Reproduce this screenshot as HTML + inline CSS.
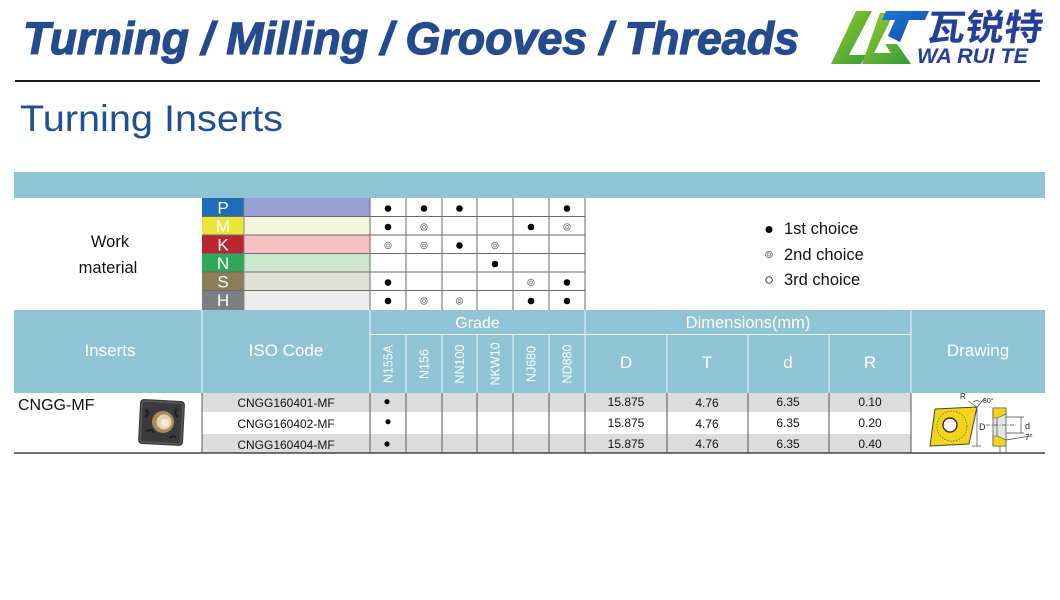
<!DOCTYPE html>
<html><head><meta charset="utf-8"><style>html,body{margin:0;padding:0;background:#fff;}svg{display:block}</style></head>
<body>
<svg width="1060" height="600" viewBox="0 0 1060 600" xmlns="http://www.w3.org/2000/svg" font-family="'Liberation Sans', 'Noto Sans CJK SC', sans-serif">
<defs>
  <g id="d1"><circle r="3.3" fill="#000"/></g>
  <g id="d2"><circle r="3.3" fill="none" stroke="#777" stroke-width="0.8"/><circle r="1.5" fill="none" stroke="#777" stroke-width="0.7"/></g>
  <linearGradient id="gg" x1="0" y1="0" x2="1" y2="1"><stop offset="0" stop-color="#9ccc2a"/><stop offset="1" stop-color="#2f9a3a"/></linearGradient>
  <linearGradient id="bg" x1="0" y1="0" x2="1" y2="1"><stop offset="0" stop-color="#1a7ad8"/><stop offset="1" stop-color="#1448a8"/></linearGradient>
</defs>
<rect width="1060" height="600" fill="#fff"/>

<!-- Title -->
<text x="23" y="54" font-size="45" font-weight="bold" font-style="italic" fill="#234b8e" stroke="#234b8e" stroke-width="1.2" textLength="776" lengthAdjust="spacingAndGlyphs">Turning / Milling / Grooves / Threads</text>

<!-- Logo -->
<polygon points="856,11 872,11 849,55 866,55 861,64 831,64" fill="url(#gg)"/>
<polygon points="880,13 894,13 874,53 891,53 885,44 897,44 911,64 862,64" fill="url(#gg)"/>
<polygon points="886,11 929,11 925,20 909,20 900,42 888,36 895,20 882,20" fill="url(#bg)"/>
<text x="926" y="40" font-size="36" font-weight="bold" fill="#253f96" textLength="116" lengthAdjust="spacingAndGlyphs" transform="skewX(-8) translate(5,0)">瓦锐特</text>
<text x="917" y="63" font-size="21" font-weight="bold" font-style="italic" fill="#253f96" textLength="111" lengthAdjust="spacingAndGlyphs">WA RUI TE</text>

<line x1="15" y1="81" x2="1040" y2="81" stroke="#1c1c1c" stroke-width="2"/>

<text x="20" y="131" font-size="37" fill="#22508f" textLength="263" lengthAdjust="spacingAndGlyphs">Turning Inserts</text>

<!-- top band -->
<rect x="14" y="172" width="1031" height="26" fill="#8fc4d4"/>

<!-- Work material -->
<text x="110" y="247" font-size="16.5" fill="#111" text-anchor="middle">Work</text>
<text x="108" y="273" font-size="16.5" fill="#111" text-anchor="middle">material</text>

<rect x="202" y="198" width="42" height="18.5" fill="#1f6db6"/><rect x="244" y="198" width="126" height="18.5" fill="#97a0d2"/>
<rect x="202" y="216.5" width="42" height="18.5" fill="#ebe53a"/><rect x="244" y="216.5" width="126" height="18.5" fill="#f1f5d9"/>
<rect x="202" y="235" width="42" height="18.5" fill="#bb2530"/><rect x="244" y="235" width="126" height="18.5" fill="#f7c1c1"/>
<rect x="202" y="253.5" width="42" height="18.5" fill="#2fa85a"/><rect x="244" y="253.5" width="126" height="18.5" fill="#cde7cd"/>
<rect x="202" y="272" width="42" height="18.5" fill="#8c7c57"/><rect x="244" y="272" width="126" height="18.5" fill="#dfe1d9"/>
<rect x="202" y="290.5" width="42" height="19.5" fill="#7b7e82"/><rect x="244" y="290.5" width="126" height="19.5" fill="#ececec"/>

<g font-size="17" fill="#fff" text-anchor="middle">
<text x="223" y="213.5">P</text>
<text x="223" y="232">M</text>
<text x="223" y="250.5">K</text>
<text x="223" y="269">N</text>
<text x="223" y="287.5">S</text>
<text x="223" y="306">H</text>
</g>

<g stroke="#6a6a6a" stroke-width="1">
<line x1="202" y1="216.5" x2="585" y2="216.5"/>
<line x1="202" y1="235" x2="585" y2="235"/>
<line x1="202" y1="253.5" x2="585" y2="253.5"/>
<line x1="202" y1="272" x2="585" y2="272"/>
<line x1="202" y1="290.5" x2="585" y2="290.5"/>
<line x1="244" y1="198" x2="244" y2="310" stroke="#888"/>
<line x1="370" y1="198" x2="370" y2="310"/>
<line x1="406" y1="198" x2="406" y2="310"/>
<line x1="442" y1="198" x2="442" y2="310"/>
<line x1="477" y1="198" x2="477" y2="310"/>
<line x1="513" y1="198" x2="513" y2="310"/>
<line x1="549" y1="198" x2="549" y2="310"/>
<line x1="585" y1="198" x2="585" y2="310"/>
</g>

<!-- grade dots -->
<use href="#d1" x="388" y="208.5"/><use href="#d1" x="424" y="208.5"/><use href="#d1" x="459.5" y="208.5"/><use href="#d1" x="567" y="208.5"/>
<use href="#d1" x="388" y="227"/><use href="#d2" x="424" y="227"/><use href="#d1" x="531" y="227"/><use href="#d2" x="567" y="227"/>
<use href="#d2" x="388" y="245.5"/><use href="#d2" x="424" y="245.5"/><use href="#d1" x="459.5" y="245.5"/><use href="#d2" x="495" y="245.5"/>
<use href="#d1" x="495" y="264"/>
<use href="#d1" x="388" y="282.5"/><use href="#d2" x="531" y="282.5"/><use href="#d1" x="567" y="282.5"/>
<use href="#d1" x="388" y="301"/><use href="#d2" x="424" y="301"/><use href="#d2" x="459.5" y="301"/><use href="#d1" x="531" y="301"/><use href="#d1" x="567" y="301"/>

<!-- legend -->
<circle cx="769" cy="229.5" r="3.5" fill="#000"/>
<circle cx="769" cy="254.5" r="3.3" fill="none" stroke="#666" stroke-width="0.8"/><circle cx="769" cy="254.5" r="1.5" fill="none" stroke="#666" stroke-width="0.7"/>
<circle cx="769" cy="280" r="3.3" fill="none" stroke="#333" stroke-width="0.9"/>
<g font-size="16.5" fill="#111">
<text x="784" y="234">1st choice</text>
<text x="784" y="260">2nd choice</text>
<text x="784" y="285">3rd choice</text>
</g>

<!-- header -->
<rect x="14" y="310" width="1031" height="83" fill="#8fc4d4"/>
<g stroke="#eaf5f8" stroke-width="1">
<line x1="202" y1="310" x2="202" y2="393"/>
<line x1="370" y1="310" x2="370" y2="393"/>
<line x1="585" y1="310" x2="585" y2="393"/>
<line x1="911" y1="310" x2="911" y2="393"/>
<line x1="370" y1="334.5" x2="911" y2="334.5"/>
<line x1="406" y1="334.5" x2="406" y2="393"/>
<line x1="442" y1="334.5" x2="442" y2="393"/>
<line x1="477" y1="334.5" x2="477" y2="393"/>
<line x1="513" y1="334.5" x2="513" y2="393"/>
<line x1="549" y1="334.5" x2="549" y2="393"/>
<line x1="667" y1="334.5" x2="667" y2="393"/>
<line x1="748" y1="334.5" x2="748" y2="393"/>
<line x1="829" y1="334.5" x2="829" y2="393"/>
</g>
<g fill="#fff" text-anchor="middle">
<text x="110" y="356" font-size="17">Inserts</text>
<text x="286" y="356" font-size="17">ISO Code</text>
<text x="477.5" y="328" font-size="16">Grade</text>
<text x="748" y="328" font-size="16.5">Dimensions(mm)</text>
<text x="978" y="356" font-size="17">Drawing</text>
<text x="626" y="368" font-size="17">D</text>
<text x="707" y="368" font-size="17">T</text>
<text x="788" y="368" font-size="17">d</text>
<text x="870" y="368" font-size="17">R</text>
<g font-size="12.5">
<text transform="translate(392.5,364) rotate(-90)">N155A</text>
<text transform="translate(428.5,364) rotate(-90)">N156</text>
<text transform="translate(464,364) rotate(-90)">NN100</text>
<text transform="translate(499.5,364) rotate(-90)">NKW10</text>
<text transform="translate(535.5,364) rotate(-90)">NJ680</text>
<text transform="translate(571.5,364) rotate(-90)">ND880</text>
</g>
</g>

<!-- data rows -->
<rect x="202" y="393" width="709" height="19" fill="#dcdcdc"/>
<rect x="202" y="434" width="709" height="19" fill="#dcdcdc"/>
<g stroke="#555" stroke-width="1">
<line x1="202" y1="393" x2="202" y2="453"/>
<line x1="370" y1="393" x2="370" y2="453"/>
<line x1="406" y1="393" x2="406" y2="453"/>
<line x1="442" y1="393" x2="442" y2="453"/>
<line x1="477" y1="393" x2="477" y2="453"/>
<line x1="513" y1="393" x2="513" y2="453"/>
<line x1="549" y1="393" x2="549" y2="453"/>
<line x1="585" y1="393" x2="585" y2="453"/>
<line x1="667" y1="393" x2="667" y2="453"/>
<line x1="748" y1="393" x2="748" y2="453"/>
<line x1="829" y1="393" x2="829" y2="453"/>
<line x1="911" y1="393" x2="911" y2="453"/>
</g>
<line x1="14" y1="453" x2="1045" y2="453" stroke="#444" stroke-width="1.5"/>

<text x="18" y="410" font-size="16" fill="#111">CNGG-MF</text>

<g font-size="12" fill="#111" text-anchor="middle">
<text x="286" y="407">CNGG160401-MF</text>
<text x="286" y="428">CNGG160402-MF</text>
<text x="286" y="449">CNGG160404-MF</text>
<text x="626" y="406">15.875</text><text x="707" y="407">4.76</text><text x="788" y="406">6.35</text><text x="870" y="406">0.10</text>
<text x="626" y="427">15.875</text><text x="707" y="428">4.76</text><text x="788" y="427">6.35</text><text x="870" y="427">0.20</text>
<text x="626" y="448">15.875</text><text x="707" y="448">4.76</text><text x="788" y="448">6.35</text><text x="870" y="448">0.40</text>
</g>
<circle cx="387" cy="401.7" r="2.6" fill="#000"/>
<circle cx="388" cy="421.7" r="2.6" fill="#000"/>
<circle cx="387" cy="444" r="2.6" fill="#000"/>

<!-- insert photo -->
<g transform="rotate(3 162 423)">
<rect x="139" y="400" width="45" height="45" rx="4" fill="#3b3a3c"/>
<rect x="141" y="402" width="41" height="41" rx="3" fill="none" stroke="#5a595b" stroke-width="1.5"/>
<path d="M145 410 q4 4 0 8 M147 432 q4 -3 8 1 M176 408 q-3 4 1 8 M170 438 q3 -4 7 -1" stroke="#1e1e1f" stroke-width="2" fill="none"/>
</g>
<circle cx="163" cy="422" r="11" fill="#a88a5c"/>
<circle cx="164" cy="422" r="7.5" fill="#e4d4ac"/>
<circle cx="165" cy="423" r="4" fill="#f3ead2"/>

<!-- drawing -->
<polygon points="935,409 977,407 969,444 930,446" fill="#f2d41b" stroke="#444" stroke-width="1" stroke-linejoin="round"/>
<circle cx="952" cy="426" r="15" fill="none" stroke="#555" stroke-width="0.7" stroke-dasharray="1.5 1.5"/>
<circle cx="950" cy="425" r="7" fill="#fff" stroke="#333" stroke-width="1.4"/>
<g stroke="#444" stroke-width="0.7" fill="none">
<line x1="977" y1="408" x2="977" y2="446"/>
<line x1="972" y1="446" x2="981" y2="446"/>
<line x1="968" y1="401" x2="977" y2="407"/>
<line x1="977" y1="407" x2="985" y2="398"/>
<path d="M973 402 q4 -3 7 0"/>
<rect x="993" y="408" width="13" height="38" fill="#e4e4e4"/>
<line x1="997" y1="408" x2="997" y2="446"/>
<line x1="986" y1="425" x2="1016" y2="425" stroke-dasharray="4 1.5 1 1.5"/>
<line x1="1006" y1="417" x2="1024" y2="417"/>
<line x1="1006" y1="433" x2="1024" y2="433"/>
<line x1="1021" y1="417" x2="1021" y2="433"/>
<line x1="1006" y1="440" x2="1030" y2="436"/>
<line x1="1000" y1="446" x2="1000" y2="452"/>
<line x1="1006" y1="446" x2="1006" y2="452"/>
</g>
<polygon points="993,408 1006,408 1006,414 997,418 993,418" fill="#f2d41b" stroke="#444" stroke-width="0.6"/>
<polygon points="993,436 997,436 1006,440 1006,446 993,446" fill="#f2d41b" stroke="#444" stroke-width="0.6"/>
<g fill="#222">
<text x="960" y="399" font-size="8">R</text>
<text x="983" y="403" font-size="7">80°</text>
<text x="979" y="430" font-size="9">D</text>
<text x="1025" y="429" font-size="9">d</text>
<text x="1025" y="440" font-size="8">7°</text>
</g>
</svg>
</body></html>
